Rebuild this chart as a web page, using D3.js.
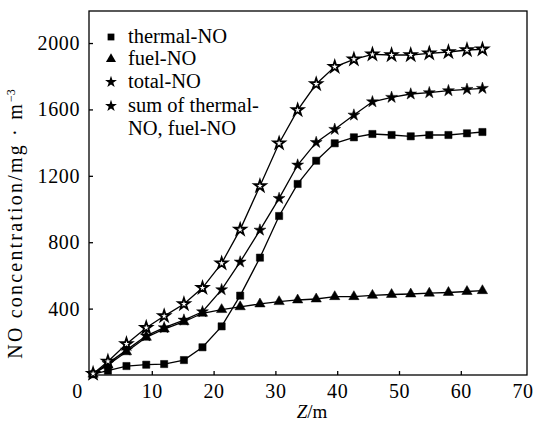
<!DOCTYPE html>
<html>
<head>
<meta charset="utf-8">
<script src="https://cdn.jsdelivr.net/npm/d3@7"></script>
<style>
  body { margin: 0; background: #fff; }
</style>
</head>
<body>
<div id="chart"></div>
<script>
// distance along furnace (m)
const zValues = [0.5, 2.9, 5.9, 9.1, 12.0, 15.2, 18.2, 21.3, 24.3, 27.5, 30.6, 33.6, 36.6, 39.6, 42.7, 45.7, 48.8, 51.9, 54.9, 58.0, 61.0, 63.5];

const thermalNO = [5, 26, 54, 62, 66, 90, 167, 293, 478, 707, 958, 1151, 1291, 1396, 1432, 1452, 1446, 1438, 1446, 1446, 1456, 1464];
const fuelNO    = [5, 60, 140, 227, 277, 321, 372, 394, 411, 428, 442, 452, 458, 472, 472, 480, 485, 488, 493, 497, 503, 508];
const totalNO   = [5, 70, 150, 236, 285, 331, 381, 514, 681, 873, 1064, 1265, 1401, 1480, 1566, 1646, 1673, 1693, 1701, 1713, 1721, 1727];
const sumNO     = [8, 82, 187, 285, 355, 428, 525, 673, 876, 1139, 1396, 1596, 1753, 1857, 1902, 1932, 1928, 1928, 1938, 1946, 1958, 1962];

const xTicks = [0, 10, 20, 30, 40, 50, 60, 70];
const yTicks = [400, 800, 1200, 1600, 2000];

const legendLabels = ["thermal-NO", "fuel-NO", "total-NO", ["sum of thermal-", "NO, fuel-NO"]];

/** CONSTANTS */
const width = 547, height = 424;
const frame = { left: 89, right: 527, top: 11, bottom: 375 };
const serif = "Liberation Serif";

/** SCALES */
const x = d3.scaleLinear().domain([0, 70]).range([90, 522.6]);
const y = d3.scaleLinear().domain([0, 2193]).range([frame.bottom, frame.top]);

const svg = d3.select("#chart").append("svg")
  .attr("width", width)
  .attr("height", height);

// frame
svg.append("rect")
  .attr("x", frame.left).attr("y", frame.top)
  .attr("width", frame.right - frame.left)
  .attr("height", frame.bottom - frame.top)
  .attr("fill", "none").attr("stroke", "#000").attr("stroke-width", 1.3);

// axes, ticks point inward
const xAxis = svg.append("g")
  .attr("transform", `translate(0,${frame.bottom})`)
  .call(d3.axisBottom(x).tickValues(xTicks).tickFormat(d3.format("d"))
    .tickSizeInner(-4).tickSizeOuter(0).tickPadding(9));
xAxis.select(".domain").remove();
xAxis.selectAll(".tick line").attr("stroke-width", 1.3);
xAxis.selectAll(".tick text").attr("font-family", serif).attr("font-size", 20).attr("letter-spacing", 0.6);
xAxis.selectAll(".tick").filter(d => d === 0).select("text").attr("dx", -13);
xAxis.selectAll(".tick").filter(d => d === 0 || d === 70).select("line").remove();

const yAxis = svg.append("g")
  .attr("transform", `translate(${frame.left},0)`)
  .call(d3.axisLeft(y).tickValues(yTicks).tickFormat(d3.format("d"))
    .tickSizeInner(-4).tickSizeOuter(0).tickPadding(9));
yAxis.select(".domain").remove();
yAxis.selectAll(".tick line").attr("stroke-width", 1.3);
yAxis.selectAll(".tick text").attr("font-family", serif).attr("font-size", 20).attr("letter-spacing", 0.6);

// axis titles
const yTitle = svg.append("text")
  .attr("transform", "translate(22,224) rotate(-90)")
  .attr("text-anchor", "middle")
  .attr("font-family", serif)
  .attr("font-size", 20)
  .attr("letter-spacing", 2.2);
yTitle.append("tspan").text("NO concentration/mg · m");
yTitle.append("tspan").attr("dy", -7).attr("font-size", 12).attr("letter-spacing", 0).text("−3");

const xTitle = svg.append("text")
  .attr("x", 312).attr("y", 418)
  .attr("text-anchor", "middle")
  .attr("font-family", serif)
  .attr("font-size", 19);
xTitle.append("tspan").attr("font-style", "italic").text("Z");
xTitle.append("tspan").text("/m");

/** SERIES */
const series = [
  { values: thermalNO, symbol: d3.symbolSquare, size: 52, fill: "#000" },
  { values: fuelNO, symbol: d3.symbolTriangle, size: 46, fill: "#000" },
  { values: totalNO, symbol: d3.symbolStar, size: 44, fill: "#000" },
  { values: sumNO, symbol: d3.symbolStar, size: 40, fill: "#fff" }
];

const line = d3.line().x(d => x(d[0])).y(d => y(d[1]));

series.forEach(s => {
  const pts = zValues.map((z, i) => [z, s.values[i]]);
  svg.append("path")
    .datum(pts)
    .attr("d", line)
    .attr("fill", "none")
    .attr("stroke", "#000")
    .attr("stroke-width", 1.3);
  svg.append("g").selectAll("path")
    .data(pts)
    .join("path")
    .attr("transform", d => `translate(${x(d[0])},${y(d[1])})`)
    .attr("d", d3.symbol(s.symbol, s.size))
    .attr("fill", s.fill)
    .attr("stroke", "#000")
    .attr("stroke-width", s.fill === "#fff" ? 1.8 : 0.5);
});

/** LEGEND */
const legendSymbols = [d3.symbolSquare, d3.symbolTriangle, d3.symbolStar, d3.symbolStar];
const legendY = [37, 59, 82, 106];
legendLabels.forEach((lab, i) => {
  svg.append("path")
    .attr("transform", `translate(111,${legendY[i]})`)
    .attr("d", d3.symbol(legendSymbols[i], i === 0 ? 46 : 44))
    .attr("fill", "#000");
  const t = svg.append("text")
    .attr("x", 128).attr("y", legendY[i] + 6)
    .attr("font-family", serif)
    .attr("font-size", 20.5);
  if (Array.isArray(lab)) {
    t.append("tspan").text(lab[0]);
    t.append("tspan").attr("x", 128).attr("dy", 23).text(lab[1]);
  } else {
    t.text(lab);
  }
});
</script>
</body>
</html>
